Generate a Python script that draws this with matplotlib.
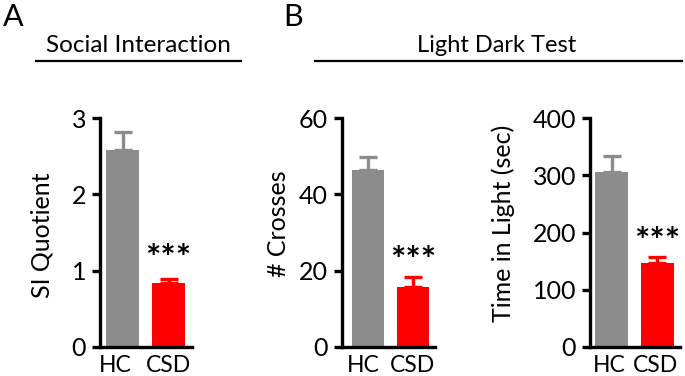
import matplotlib
matplotlib.use("Agg")
import matplotlib.pyplot as plt
from matplotlib.lines import Line2D
from matplotlib.transforms import ScaledTranslation

plt.rcParams['font.family'] = ['Lato', 'DejaVu Sans']

groups = ["HC", "CSD"]
si_mean = [2.58, 0.84]
si_err = [0.24, 0.05]
cross_mean = [46.4, 15.7]
cross_err = [3.4, 2.6]
time_mean = [306, 146]
time_err = [27, 11]

colors = ["#8c8c8c", "#ff0000"]

fig = plt.figure(figsize=(6.85, 3.76), dpi=100)
W, H = 685, 376

def make_ax(x0, x1, ylo_px, yhi_px):
    return fig.add_axes([x0 / W, 1 - ylo_px / H, (x1 - x0) / W, (ylo_px - yhi_px) / H])

panels = [
    # x0, x1, means, errs, ticks, ylabel, xlim, star_y, label_xy, label offsets (px)
    (100, 192, si_mean, si_err, [0, 1, 2, 3], "SI Quotient", (-0.49, 1.51), 1.15,
     (-0.50, 0.489), (-7, 0)),
    (342, 435, cross_mean, cross_err, [0, 20, 40, 60], "# Crosses", (-0.58, 1.49), 22.3,
     (-0.559, 0.537), (-4.5, 0)),
    (590, 680, time_mean, time_err, [0, 100, 200, 300, 400], "Time in Light (sec)", (-0.47, 1.49), 182,
     (-0.83, 0.539), (-2, -2)),
]

for x0, x1, means, errs, ticks, ylabel, xlim, star_y, lab_xy, offs in panels:
    ax = make_ax(x0, x1, 347, 118)
    xs = [0, 1]
    ax.bar(xs, means, width=0.71, color=colors, zorder=2)
    for x, m, e, c in zip(xs, means, errs, colors):
        ax.errorbar([x], [m], yerr=[[0], [e]], fmt="none", ecolor=c,
                    elinewidth=2.4, capsize=6.5, capthick=2.4, zorder=1)
    ax.set_xlim(*xlim)
    ax.set_ylim(ticks[0], ticks[-1])
    ax.set_yticks(ticks)
    ax.set_xticks(xs)
    ax.set_xticklabels(groups)
    for s in ["top", "right"]:
        ax.spines[s].set_visible(False)
    for s in ["left", "bottom"]:
        ax.spines[s].set_linewidth(2.4)
    ax.tick_params(axis="y", width=2.4, length=6, labelsize=18, pad=4)
    ax.tick_params(axis="x", length=0, labelsize=16.5, pad=6)
    for lbl, dx in zip(ax.get_xticklabels(), offs):
        lbl.set_transform(lbl.get_transform() + ScaledTranslation(dx / 100, 0, fig.dpi_scale_trans))
    ax.set_ylabel(ylabel, fontsize=18)
    ax.yaxis.set_label_coords(*lab_xy)
    ax.text(1, star_y, "***", ha="center", va="center", fontsize=26, fontweight="bold")

# headers
fig.text(3 / W, 1 - 17 / H, "A", fontsize=22, ha="left", va="center")
fig.text(283 / W, 1 - 17 / H, "B", fontsize=22, ha="left", va="center")
fig.text(138 / W, 1 - 45 / H, "Social Interaction", fontsize=17.5, ha="center", va="center")
fig.text(497 / W, 1 - 45 / H, "Light Dark Test", fontsize=17, ha="center", va="center")
fig.add_artist(Line2D([36 / W, 241 / W], [1 - 61 / H, 1 - 61 / H], color="black", lw=1.6))
fig.add_artist(Line2D([315 / W, 682 / W], [1 - 61 / H, 1 - 61 / H], color="black", lw=1.6))

fig.savefig("out.png", dpi=100)
